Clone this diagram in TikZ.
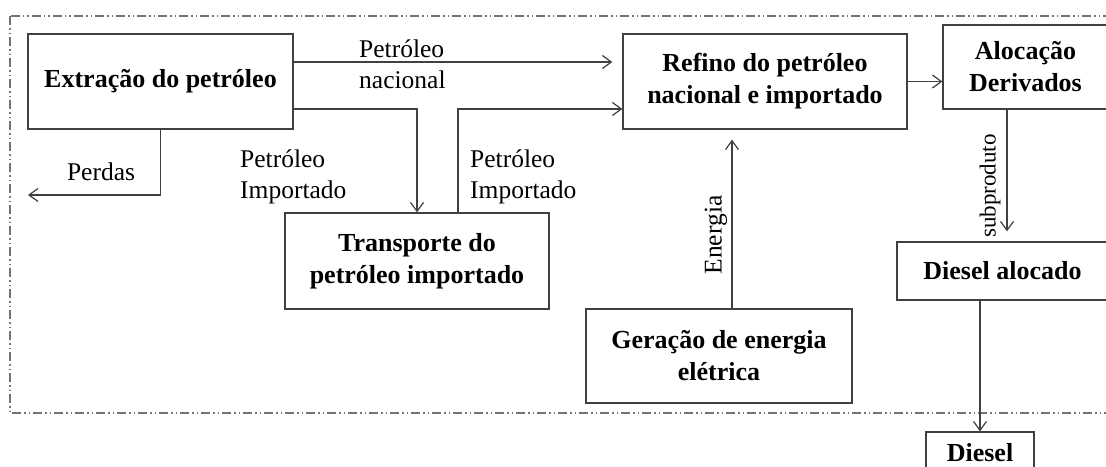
\documentclass[tikz,border=0pt]{standalone}
\usepackage{fontspec}
\setmainfont{Liberation Serif}
\usetikzlibrary{arrows.meta,calc,positioning}

\tikzset{
  bloco/.style={draw=black!75, line width=1.2pt, inner sep=0pt, align=center,
    font=\fontsize{26}{32}\selectfont\bfseries},
  rotulo/.style={inner sep=0pt, align=left, font=\fontsize{25.5}{31}\selectfont},
  seta/.style={draw=black!75, line width=1.2pt, -{Straight Barb[length=9pt,width=13pt]}},
}

\begin{document}
\begin{tikzpicture}[x=1pt,y=-1pt]
\useasboundingbox (0,0) rectangle (1106,466);
\clip (0,0) rectangle (1106,466);
\draw[black!55, line width=1.3pt, dash pattern=on 9pt off 3pt on 1.5pt off 3pt on 1.5pt off 3pt] (10,16) rectangle (1130,413);
% blocos
\node[bloco, minimum width=265pt, minimum height=95pt] (extr) at (160.5,81.5) {Extração do petróleo};
\node[bloco, minimum width=284pt, minimum height=95pt] (refino) at (765,81.5) {Refino do petróleo\\nacional e importado};
\node[bloco, minimum width=165pt, minimum height=84pt] (aloc) at (1025.5,67) {Alocação\\Derivados};
\node[bloco, minimum width=264pt, minimum height=96pt] (transp) at (417,261) {Transporte do\\petróleo importado};
\node[bloco, minimum width=266pt, minimum height=94pt] (geracao) at (719,356) {Geração de energia\\elétrica};
\node[bloco, minimum width=211pt, minimum height=58pt] (dieselaloc) at (1002.5,271) {Diesel alocado};
\node[bloco, minimum width=108pt, minimum height=70pt] (diesel) at (980,467) {};
\node[bloco, draw=none] (dieseltxt) at (980,453) {Diesel};
\coordinate (perdas) at (28,195);
% rotulos
\node[rotulo, anchor=west] (nacional) at (359,64) {Petróleo\\nacional};
\node[rotulo] (perdastxt) at (101,172) {Perdas};
\node[rotulo, anchor=west] (imp1) at (240,177) {Petróleo\\Importado};
\node[rotulo, anchor=west] (imp2) at (470,177) {Petróleo\\Importado};
\node[rotulo, rotate=90] (energia) at (716,235) {Energia};
\node[rotulo, rotate=90, font=\fontsize{23}{27}\selectfont] (subproduto) at (990,186) {subproduto};
% setas
\draw[seta, shorten >=10pt] ([yshift=19.5pt]extr.east) -- ([yshift=19.5pt]refino.west);
\draw[seta] ([yshift=-27.5pt]extr.east) -| (transp.north);
\draw[seta] ([xshift=41pt]transp.north) |- ([yshift=-27.5pt]refino.west);
\draw[seta] (extr.south) |- (perdas);
\draw[seta] (refino.east) -- (refino.east -| aloc.west);
\draw[seta, shorten >=10pt] ([xshift=-18.5pt]aloc.south) -- ([xshift=-18.5pt]aloc.south |- dieselaloc.north);
\draw[seta] (diesel.north |- dieselaloc.south) -- (diesel.north);
\draw[seta, shorten >=10pt] ([xshift=13pt]geracao.north) -- ([xshift=13pt]geracao.north |- refino.south);
\end{tikzpicture}
\end{document}
